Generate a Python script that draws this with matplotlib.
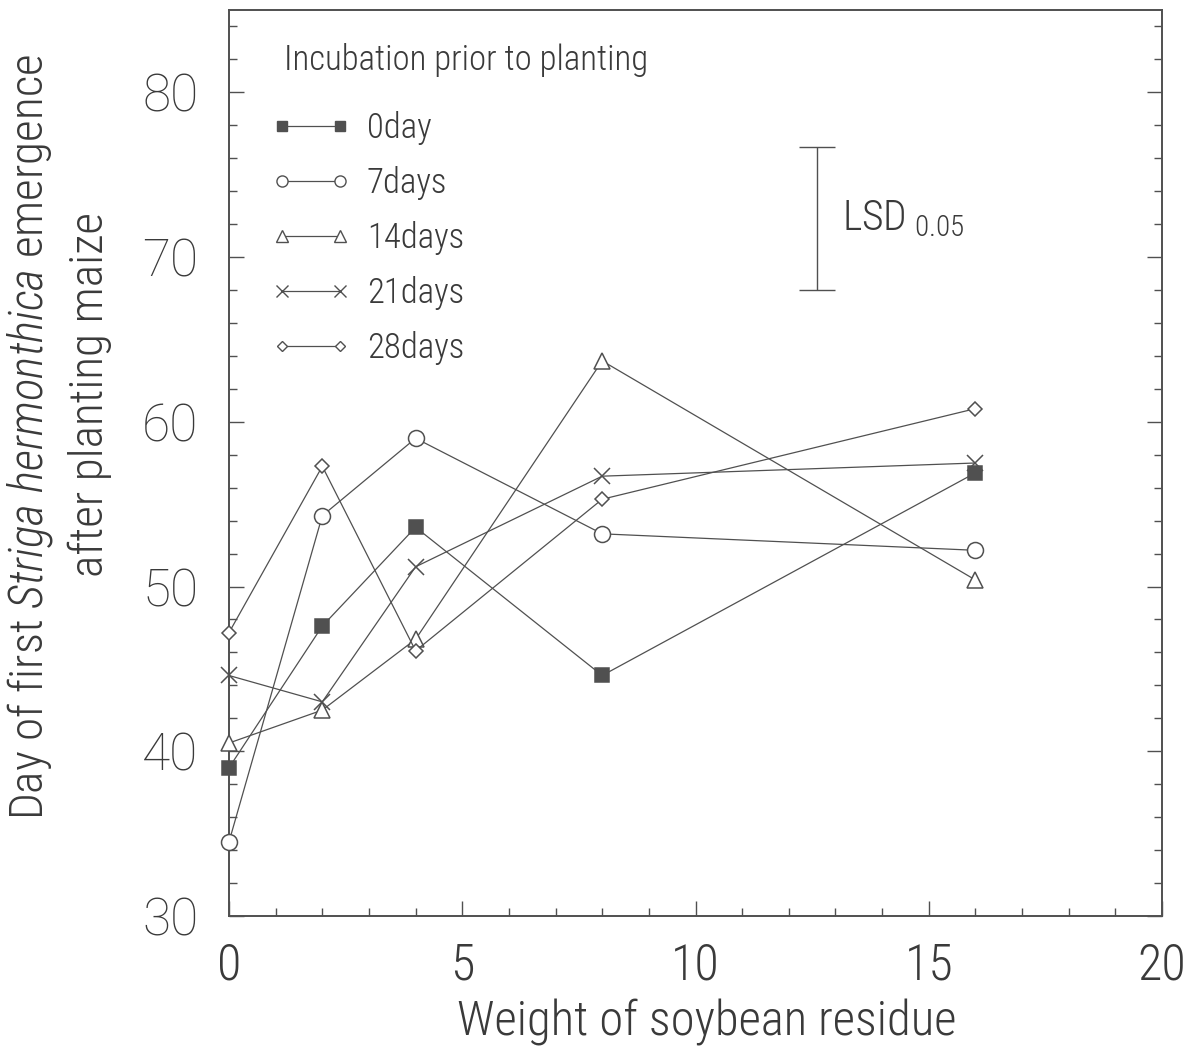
import matplotlib
matplotlib.use("Agg")
import matplotlib.pyplot as plt
import matplotlib.font_manager as fm
from matplotlib.lines import Line2D
from matplotlib.ticker import MultipleLocator

# --- data ---
residue = [0, 2, 4, 8, 16]
series_labels = ["0day", "7days", "14days", "21days", "28days"]
day0 = [39.0, 47.6, 53.6, 44.6, 56.9]
day7 = [34.5, 54.3, 59.0, 53.2, 52.2]
day14 = [40.5, 42.5, 46.8, 63.7, 50.4]
day21 = [44.6, 43.0, 51.2, 56.7, 57.5]
day28 = [47.2, 57.3, 46.1, 55.3, 60.8]
lsd_x = 12.6
lsd_low, lsd_high = 68.0, 76.7

# --- font: narrow sans if installed ---
_available = {f.name for f in fm.fontManager.ttflist}
NARROW = "DejaVu Sans"
for _name in ["Liberation Sans Narrow", "Arial Narrow", "Roboto Condensed", "DejaVu Sans Condensed"]:
    if _name in _available:
        NARROW = _name
        break
WIDE = "DejaVu Sans"
for _name in ["Roboto", "Liberation Sans"]:
    if _name in _available:
        WIDE = _name
        break

plt.rcParams["font.family"] = [NARROW, "DejaVu Sans"]
plt.rcParams["font.weight"] = "light"
plt.rcParams["mathtext.fontset"] = "custom"
plt.rcParams["mathtext.rm"] = NARROW + ":light"
plt.rcParams["mathtext.it"] = NARROW + ":italic:light"

INK = "#3a3a3a"
LINE = "#505050"

W, H = 1194, 1057
fig = plt.figure(figsize=(W / 100, H / 100), dpi=100)
ax = fig.add_axes([229 / W, 1 - 916 / H, (1162 - 229) / W, (916 - 10) / H])

styles = [
    dict(marker="s", ms=9.5, mfc=LINE, mec=LINE),
    dict(marker="o", ms=11.5, mfc="white", mec=LINE),
    dict(marker="^", ms=12, mfc="white", mec=LINE),
    dict(marker="x", ms=11, mfc="none", mec=LINE),
    dict(marker="D", ms=7.5, mfc="white", mec=LINE),
]
legend_ms = [7.5, 8, 8.5, 8, 5.5]
all_series = [day0, day7, day14, day21, day28]

for vals, st in zip(all_series, styles):
    ax.plot(residue, vals, color=LINE, lw=0.9, mew=1.1, zorder=3, clip_on=False, **st)

# LSD bar
ax.errorbar([lsd_x], [(lsd_low + lsd_high) / 2], yerr=[(lsd_high - lsd_low) / 2],
            fmt="none", ecolor=LINE, elinewidth=1.0, capsize=13, capthick=1.0)
ax.text(lsd_x + 0.55, 72.3, r"LSD$_{\ 0.05}$", fontsize=30, color=INK, ha="left", va="center")

ax.set_xlim(0, 20)
ax.set_ylim(30, 85)
ax.xaxis.set_major_locator(MultipleLocator(5))
ax.xaxis.set_minor_locator(MultipleLocator(1))
ax.yaxis.set_minor_locator(MultipleLocator(2))
ax.set_yticks([30, 40, 50, 60, 70, 80])
ax.tick_params(which="both", direction="in", left=True, right=True, bottom=True, top=False,
               color=LINE, width=1.0)
ax.tick_params(which="major", length=11)
ax.tick_params(which="minor", length=5.5)
ax.tick_params(axis="x", which="major", labelsize=36, pad=19, labelcolor=INK)
ax.tick_params(axis="y", which="major", labelsize=37, pad=22, labelcolor=INK)
for lbl in ax.get_yticklabels():
    lbl.set_fontfamily(WIDE)
    lbl.set_fontweight("light")
for sp in ax.spines.values():
    sp.set_color(LINE)
    sp.set_linewidth(1.4)

# legend
ax.text(0.059, 0.945, "Incubation prior to planting", transform=ax.transAxes,
        fontsize=25, color=INK, ha="left", va="center")
handles = [Line2D([0], [0], color=LINE, lw=0.9, mew=1.0,
                  **{**st, "ms": m}) for st, m in zip(styles, legend_ms)]
ax.legend(handles, series_labels, loc="upper left", bbox_to_anchor=(0.046, 0.888),
          frameon=False, numpoints=2, fontsize=25, handlelength=2.25, handletextpad=0.48,
          labelspacing=0.6, borderpad=0, borderaxespad=0, labelcolor=INK)

# axis titles
fig.text(30 / W, 1 - 437 / H, r"Day of first $Striga\ hermonthica$ emergence",
         rotation=90, fontsize=34, color=INK, ha="center", va="center")
fig.text(90 / W, 1 - 394 / H, "after planting maize",
         rotation=90, fontsize=34, color=INK, ha="center", va="center")
fig.text(707 / W, 1 - 1022 / H, "Weight of soybean residue",
         fontsize=35, color=INK, ha="center", va="center")

fig.savefig("out.png", dpi=100)
